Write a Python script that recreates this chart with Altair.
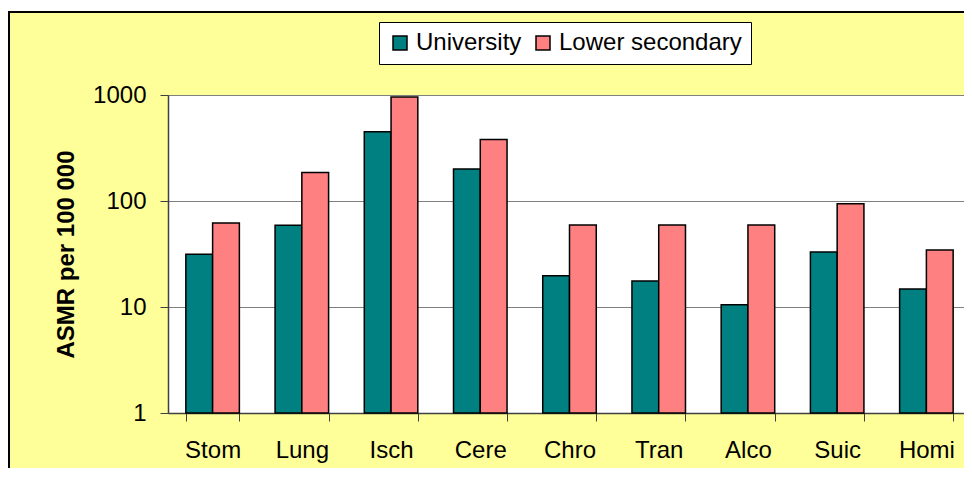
import altair as alt
import pandas as pd

categories = ["Stom", "Lung", "Isch", "Cere", "Chro", "Tran", "Alco", "Suic", "Homi"]
series_names = ["University", "Lower secondary"]
university = [31.5, 59, 450, 200, 19.7, 17.6, 10.5, 33, 14.8]
lower_secondary = [62, 186, 960, 380, 59.5, 59.5, 59.5, 94, 34.5]
y_ticks = [1, 10, 100, 1000]
y_base = 1
colors = ["#008080", "#FF8080"]

rows = []
for c, u, l in zip(categories, university, lower_secondary):
    rows.append({"cause": c, "group": series_names[0], "asmr": u, "base": y_base})
    rows.append({"cause": c, "group": series_names[1], "asmr": l, "base": y_base})
df = pd.DataFrame(rows)

W, H = 803, 318
PAD_L, PAD_T, PAD_R, PAD_B = 160, 87, -7, 55
FONT = "Liberation Sans"

bars = alt.Chart(df).mark_bar(stroke="black", strokeWidth=1.5).encode(
    x=alt.X("cause:N", sort=categories, title=None,
            scale=alt.Scale(paddingInner=0.4, paddingOuter=0.2),
            axis=alt.Axis(labelAngle=0, labelFontSize=24, labelFont=FONT, labelColor="black",
                          tickBand="extent", tickSize=8, tickColor="#404040",
                          domainColor="#404040", domainWidth=1.5, labelPadding=17,
                          grid=False)),
    xOffset=alt.XOffset("group:N", sort=series_names,
                        scale=alt.Scale(paddingInner=0, paddingOuter=0)),
    y=alt.Y("asmr:Q", title="ASMR per 100 000",
            scale=alt.Scale(type="log", domain=[1, 1000], nice=False),
            axis=alt.Axis(values=y_ticks, format="d", labelFontSize=24, labelFont=FONT,
                          labelColor="black", tickSize=8, tickColor="#404040",
                          domainColor="#404040", domainWidth=1.5, labelPadding=14,
                          grid=True, gridColor="#808080", gridWidth=1,
                          titleFontSize=24, titleFont=FONT, titleFontWeight="bold",
                          titleColor="black", titlePadding=14)),
    y2=alt.Y2("base:Q"),
    color=alt.Color("group:N", sort=series_names,
                    scale=alt.Scale(domain=series_names, range=colors),
                    legend=alt.Legend(title=None, orient="none", legendX=211, legendY=-73,
                                      direction="horizontal", fillColor="white",
                                      strokeColor="black", padding=9,
                                      symbolType="square", symbolSize=196,
                                      symbolStrokeColor="black", symbolStrokeWidth=1.5,
                                      labelFontSize=24, labelFont=FONT, labelColor="black",
                                      labelOffset=4, columnPadding=9, labelLimit=400)),
)

one = pd.DataFrame({"k": [0]})
frame = alt.Chart(one).mark_rect(fillOpacity=0, stroke="black", strokeWidth=2).encode(
    x=alt.value(-PAD_L + 1), x2=alt.value(W + 200),
    y=alt.value(-PAD_T + 4), y2=alt.value(H + 200),
)
strip = alt.Chart(one).mark_rect(fill="white", strokeWidth=0).encode(
    x=alt.value(-PAD_L), x2=alt.value(W + 200),
    y=alt.value(-PAD_T), y2=alt.value(-PAD_T + 3),
)

chart = alt.layer(strip, frame, bars).properties(
    width=W, height=H,
    autosize=alt.AutoSizeParams(type="none"),
    padding={"left": PAD_L, "top": PAD_T, "right": PAD_R, "bottom": PAD_B},
    background="#FFFF99",
).configure_view(fill="white", stroke="#808080", strokeWidth=1)

chart.save("out.html", embed_options={"renderer": "svg", "actions": False})
